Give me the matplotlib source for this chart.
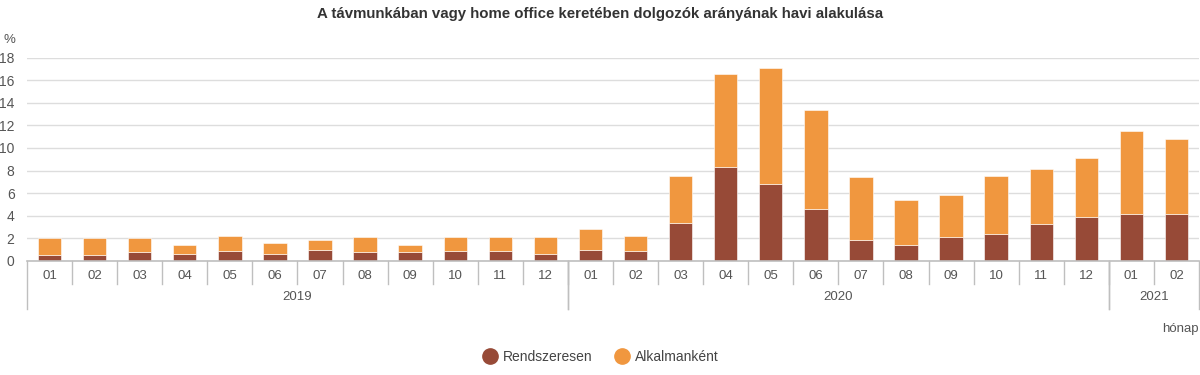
import matplotlib
matplotlib.use("Agg")
import matplotlib.pyplot as plt
import matplotlib.transforms as mtransforms
from matplotlib.lines import Line2D
import numpy as np

plt.rcParams['font.family'] = ['Liberation Sans', 'DejaVu Sans']

# data
honapok = ['01', '02', '03', '04', '05', '06', '07', '08', '09', '10', '11', '12',
           '01', '02', '03', '04', '05', '06', '07', '08', '09', '10', '11', '12',
           '01', '02']
evek = ['2019', '2020', '2021']
ev_honapszam = [12, 12, 2]
rendszeresen = [0.5, 0.5, 0.8, 0.6, 0.9, 0.6, 1.0, 0.8, 0.8, 0.9, 0.9, 0.6,
                1.0, 0.9, 3.4, 8.3, 6.8, 4.6, 1.9, 1.4, 2.1, 2.4, 3.3, 3.9,
                4.2, 4.2]
alkalmankent = [1.5, 1.5, 1.2, 0.8, 1.3, 1.0, 0.9, 1.3, 0.6, 1.2, 1.2, 1.5,
                1.8, 1.3, 4.1, 8.2, 10.3, 8.8, 5.5, 4.0, 3.7, 5.1, 4.8, 5.2,
                7.3, 6.6]
y_ticks = [0, 2, 4, 6, 8, 10, 12, 14, 16, 18]

c_dark = '#974a37'
c_orange = '#f0973f'
c_text = '#555555'
c_axis = '#bfbfbf'

fig = plt.figure(figsize=(12, 3.75), dpi=100)
ax = fig.add_axes([27 / 1200, 1 - 261 / 375, 1172 / 1200, (261 - 57.5) / 375])

x = np.arange(len(honapok))
ax.bar(x, rendszeresen, width=0.52, color=c_dark, edgecolor='white', linewidth=0.4, zorder=3)
ax.bar(x, alkalmankent, width=0.52, bottom=rendszeresen, color=c_orange,
       edgecolor='white', linewidth=0.4, zorder=3)

ax.set_xlim(-0.5, len(honapok) - 0.5)
ax.set_ylim(0, 18)
ax.set_yticks(y_ticks)
ax.tick_params(axis='y', length=0, labelsize=10, colors=c_text, pad=9)
ax.set_xticks([])
ax.grid(axis='y', color='#dddddd', linewidth=1, zorder=0)
for s in ['top', 'right', 'left']:
    ax.spines[s].set_visible(False)
ax.spines['bottom'].set_color(c_axis)
ax.spines['bottom'].set_linewidth(1.2)
ax.spines['bottom'].set_zorder(4)

# hierarchical x axis
tr = mtransforms.blended_transform_factory(ax.transData, fig.transFigure)
y0 = 1 - 261 / 375
y_cat = 1 - 284 / 375
y_year = 1 - 309 / 375
for i, m in enumerate(honapok):
    ax.text(i, 1 - 276 / 375, m, transform=tr, ha='center', va='center',
            fontsize=9.5, color=c_text)
    if i > 0:
        ax.add_line(Line2D([i - 0.5, i - 0.5], [y0, y_cat], transform=tr,
                           color=c_axis, linewidth=1, clip_on=False))
start = 0
for ev, n in zip(evek, ev_honapszam):
    ax.text(start + (n - 1) / 2, 1 - 297 / 375, ev, transform=tr, ha='center',
            va='center', fontsize=9.5, color=c_text)
    for edge in [start - 0.5, start + n - 0.5]:
        ax.add_line(Line2D([edge, edge], [y0, y_year], transform=tr,
                           color=c_axis, linewidth=1, clip_on=False))
    start += n

fig.text(3 / 1200, 1 - 40 / 375, '%', fontsize=9.5, color=c_text, va='center')
fig.text(1199 / 1200, 1 - 329 / 375, 'hónap', fontsize=9.5, color=c_text,
         ha='right', va='center')
fig.text(0.5, 1 - 14 / 375, 'A távmunkában vagy home office keretében dolgozók arányának havi alakulása',
         fontsize=10.8, fontweight='bold', color='#333333', ha='center', va='center')

handles = [Line2D([], [], marker='o', linestyle='', markersize=11, color=c_dark),
           Line2D([], [], marker='o', linestyle='', markersize=11, color=c_orange)]
fig.legend(handles, ['Rendszeresen', 'Alkalmanként'], loc='center',
           bbox_to_anchor=(0.5, 1 - 357 / 375), ncol=2, frameon=False,
           fontsize=10, labelcolor='#444444', handletextpad=0.35, columnspacing=1.5,
           handlelength=1.2)

fig.savefig('out.png', dpi=100)
